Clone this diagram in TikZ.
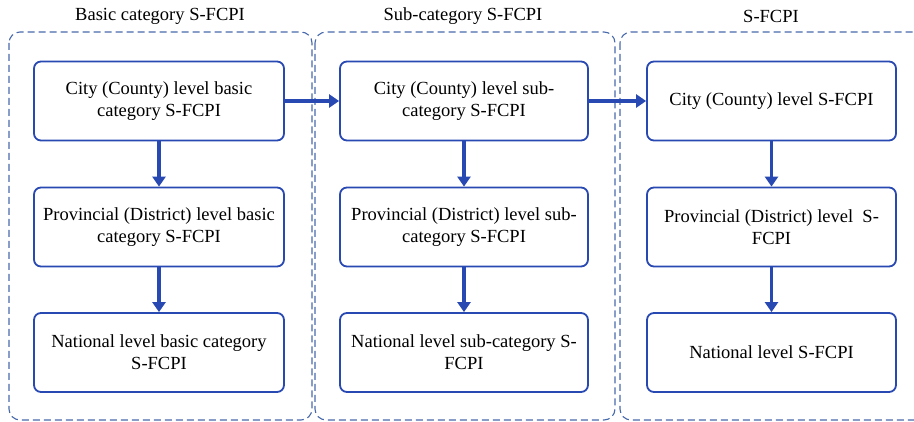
\documentclass[tikz,border=0pt]{standalone}
\usepackage{fontspec}
\setmainfont{Liberation Serif}
\usetikzlibrary{arrows.meta}
\definecolor{boxblue}{RGB}{40,72,178}
\definecolor{dashblue}{RGB}{72,106,172}
\begin{document}
\begin{tikzpicture}[x=1pt,y=-1pt,
  group/.style={draw=dashblue,line width=1.1pt,dash pattern=on 7pt off 4pt,rounded corners=11pt},
  stage/.style={draw=boxblue,line width=1.8pt,rounded corners=7pt,minimum width=250pt,minimum height=79pt,inner sep=0pt,align=center,font=\rmfamily\fontsize{18.5}{21.7}\selectfont},
  title/.style={font=\rmfamily\fontsize{18.5}{21.7}\selectfont,inner sep=0pt},
  flow/.style={draw=boxblue,line width=3.2pt,-{Triangle[length=10pt,width=13pt]}}]
\useasboundingbox (0,0) rectangle (914,422);
% dashed groups
\draw[group] (9,32) rectangle (312,420);
\draw[group] (315,32) rectangle (615,420);
\draw[group] (620,32) rectangle (930,420);
% titles
\node[title] (t1) at (160,16) {Basic category S-FCPI};
\node[title] (t2) at (463,16) {Sub-category S-FCPI};
\node[title] (t3) at (771,16) {S-FCPI};
% column 1
\node[stage] (a1) at (159,101) {City (County) level basic\\category S-FCPI};
\node[stage] (a2) at (159,227) {Provincial (District) level basic\\category S-FCPI};
\node[stage] (a3) at (159,352.5) {National level basic category\\S-FCPI};
% column 2
\node[stage,minimum width=248pt] (b1) at (464,101) {City (County) level sub-\\category S-FCPI};
\node[stage,minimum width=248pt] (b2) at (464,227) {Provincial (District) level sub-\\category S-FCPI};
\node[stage,minimum width=248pt] (b3) at (464,352.5) {National level sub-category S-\\FCPI};
% column 3
\node[stage,minimum width=249pt] (c1) at (771.5,101) {City (County) level S-FCPI};
\node[stage,minimum width=249pt] (c2) at (771.5,227) {Provincial (District) level \ S-\\FCPI};
\node[stage,minimum width=249pt] (c3) at (771.5,352.5) {National level S-FCPI};
% arrows
\draw[flow] (a1) -- (a2);
\draw[flow] (a2) -- (a3);
\draw[flow] (b1) -- (b2);
\draw[flow] (b2) -- (b3);
\draw[flow] (c1) -- (c2);
\draw[flow] (c2) -- (c3);
\draw[flow] (a1) -- (b1);
\draw[flow] (b1) -- (c1);
\end{tikzpicture}
\end{document}
